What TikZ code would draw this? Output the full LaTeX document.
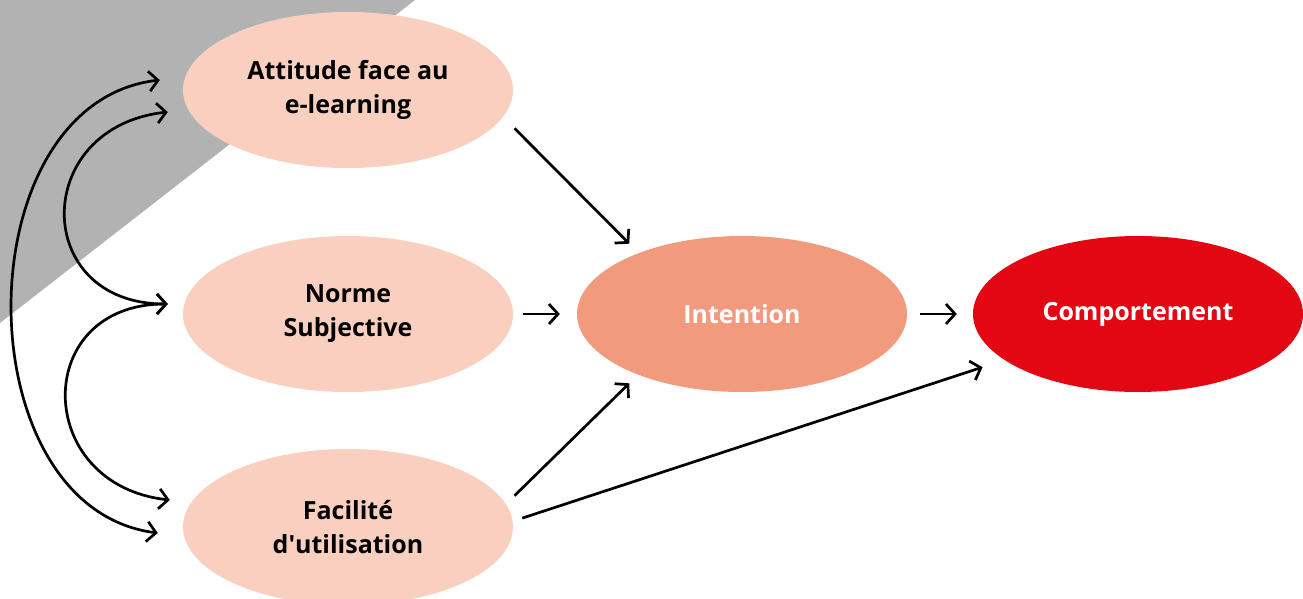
\documentclass[tikz,border=0pt]{standalone}
\usepackage{fontspec}
\setmainfont{Open Sans}
\usetikzlibrary{shapes.geometric,arrows.meta}
\definecolor{ovalpale}{HTML}{F9D0C0}
\definecolor{ovalmid}{HTML}{F29A7D}
\definecolor{ovalred}{HTML}{E30613}
\definecolor{wedgegrey}{HTML}{B2B2B2}
\begin{document}
\begin{tikzpicture}[x=1pt,y=1pt,
  oval/.style={ellipse,minimum width=330pt,minimum height=156pt,inner sep=0pt,
    align=center,font=\fontsize{25}{34}\selectfont\bfseries},
  link/.style={line width=2.7pt,-{Straight Barb[length=9pt,width=20pt]}},
  bothways/.style={line width=2.7pt,{Straight Barb[length=9pt,width=20pt]}-{Straight Barb[length=9pt,width=20pt]}}]
  \useasboundingbox (0,0) rectangle (1303,598);
  \fill[wedgegrey] (0,598) -- (415,598) -- (0,275) -- cycle;
  % the three predictors
  \node[oval,fill=ovalpale] (att) at (348,508) {Attitude face au\\e-learning};
  \node[oval,fill=ovalpale] (nor) at (348,284) {Norme\\Subjective};
  \node[oval,fill=ovalpale] (fac) at (348,71) {Facilité\\d\textquotesingle utilisation};
  \node[oval,fill=ovalmid,text=white] (int) at (742,284) {Intention};
  \node[oval,fill=ovalred,text=white] (com) at (1138,284) {Comportement};
  % straight links
  \draw[link] ([shift={(18pt,-4pt)}]att.-13) -- ([shift={(-13pt,8pt)}]int.148);
  \draw[link,shorten <=10pt,shorten >=17pt] (nor.east) -- (int.west);
  \draw[link] ([shift={(18pt,-3pt)}]fac.13) -- ([shift={(-13pt,-7pt)}]int.-148);
  \draw[link,shorten <=13pt,shorten >=16pt] (int.east) -- (com.west);
  \draw[link,shorten <=10pt,shorten >=23pt] (fac.2) -- (com.-161);
  % correlations
  \draw[bothways] ([xshift=-23pt,yshift=10pt]att.west) .. controls +(-197,-23) and +(-195,25) .. ([xshift=-25pt,yshift=-6pt]fac.west);
  \draw[bothways] ([xshift=-15pt,yshift=-22pt]att.west) .. controls +(-137,-15) and +(-137,0) .. ([xshift=-15pt,yshift=10pt]nor.west);
  \draw[bothways] ([xshift=-15pt,yshift=10pt]nor.west) .. controls +(-137,0) and +(-137,15) .. ([xshift=-13pt,yshift=27pt]fac.west);
\end{tikzpicture}
\end{document}
